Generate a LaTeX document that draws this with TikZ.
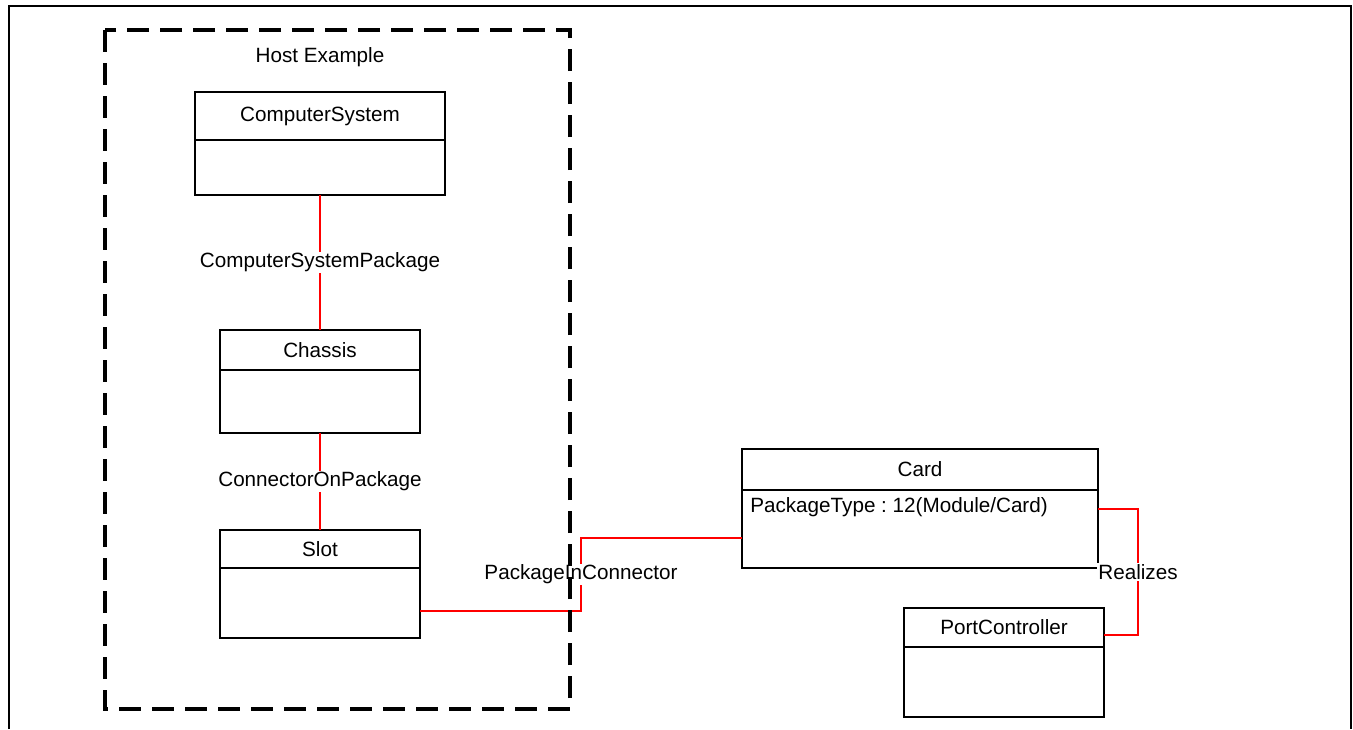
\documentclass[tikz,border=0pt]{standalone}
\usepackage{fontspec}
\setmainfont{Liberation Sans}
\usetikzlibrary{positioning}

\begin{document}
\begin{tikzpicture}[
    x=0.75pt, y=-0.75pt,
    font=\fontsize{15.5pt}{18pt}\selectfont,
    head/.style={rectangle, draw, line width=2pt, outer sep=0pt, inner sep=0pt},
    body/.style={rectangle, draw, line width=2pt, outer sep=0pt, inner sep=0pt},
    link/.style={draw=red, line width=1.9pt},
    lbl/.style={fill=white, inner sep=1pt}
]
\useasboundingbox (0,0) rectangle (1353,729);

% Frame
\draw[line width=2.2pt] (9,729) -- (9,6) -- (1351,6) -- (1351,729);

% Host title
\node (host) at (320,57) {Host Example};

% ComputerSystem
\node[head, minimum width=187.5pt, minimum height=36pt] (cs) at (320,116) {ComputerSystem};
\node[body, minimum width=187.5pt, minimum height=41.25pt, below=0pt of cs] (csb) {};

% Chassis
\node[head, minimum width=150pt, minimum height=30pt] (ch) at (320,350) {Chassis};
\node[body, minimum width=150pt, minimum height=47.25pt, below=0pt of ch] (chb) {};

% Slot
\node[head, minimum width=150pt, minimum height=28.5pt] (sl) at (320,549) {Slot};
\node[body, minimum width=150pt, minimum height=52.5pt, below=0pt of sl] (slb) {};

% Card
\node[head, minimum width=267pt, minimum height=30.75pt] (card) at (920,469.5) {Card};
\node[body, minimum width=267pt, minimum height=58.5pt, below=0pt of card] (cardb) {};
\node[anchor=west, inner sep=0pt, execute at begin node=\frenchspacing] (cardattr) at (750,507) {PackageType : 12(Module/Card)};

% PortController
\node[head, minimum width=150pt, minimum height=29.25pt] (pc) at (1004,627.5) {PortController};
\node[body, minimum width=150pt, minimum height=52.5pt, below=0pt of pc] (pcb) {};

% Associations
\draw[link] (csb) -- (ch) node[midway, lbl, text=black] {ComputerSystemPackage};
\draw[link] (chb) -- (sl) node[midway, lbl, text=black] {ConnectorOnPackage};
\draw[link] ([yshift=-6pt]slb.east) -- ++(161,0) |- ([yshift=-6.75pt]cardb.west)
    node[pos=0.25, lbl, text=black] {PackageInConnector};
\draw[link] ([yshift=15pt]cardb.east) -- ++(40,0) |- ([yshift=-5.6pt]pc.east)
    node[pos=0.25, lbl, text=black] {Realizes};

% Host boundary
\draw[line width=2.5pt, dash pattern=on 16.5pt off 8.25pt] (105,30) rectangle (570,709);

\end{tikzpicture}
\end{document}
